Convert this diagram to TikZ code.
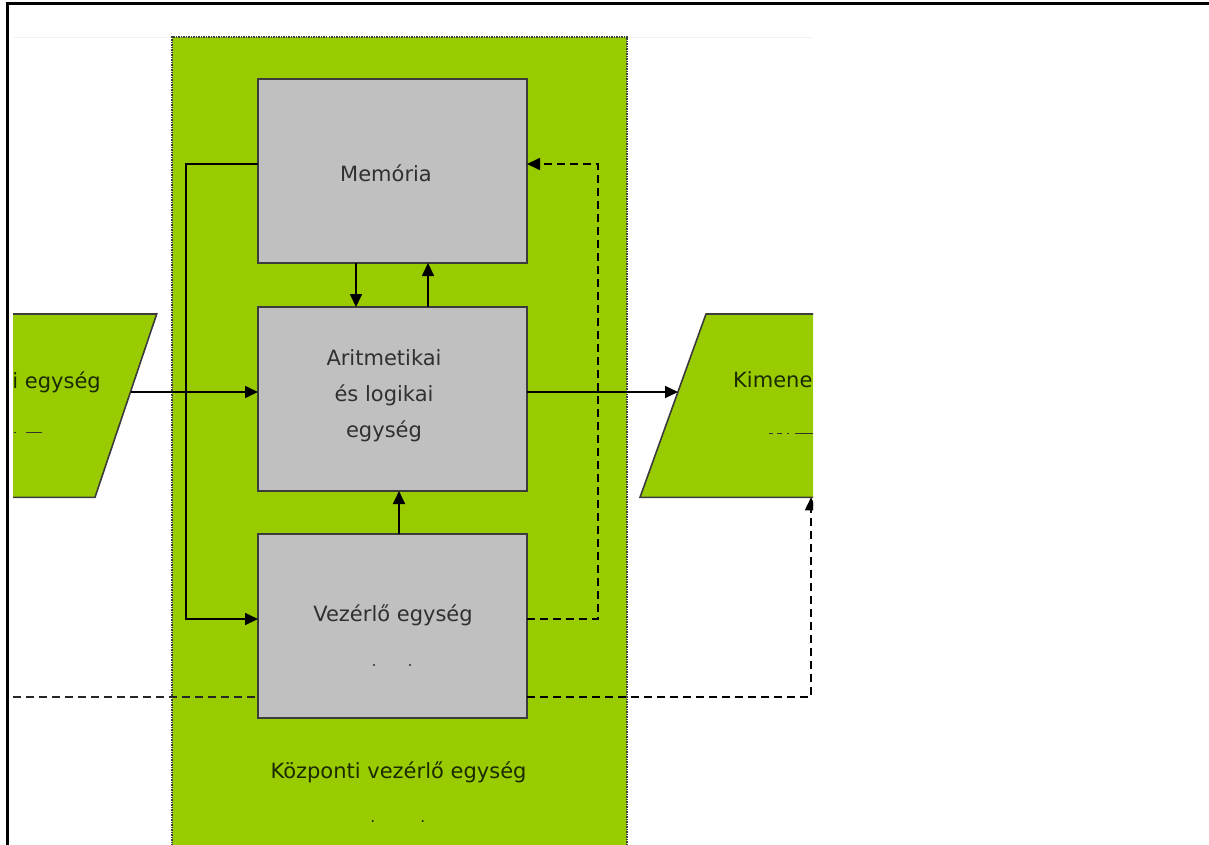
\documentclass[tikz,border=0pt]{standalone}
\usepackage{fontspec}
\setmainfont{DejaVu Sans}
\usetikzlibrary{arrows.meta}

\definecolor{cpugreen}{RGB}{153,204,0}
\definecolor{boxgray}{RGB}{192,192,192}
\definecolor{edgegray}{RGB}{60,60,60}
\definecolor{labelgray}{RGB}{48,48,48}
\definecolor{labelolive}{RGB}{28,42,0}
\definecolor{cliprule}{RGB}{242,242,242}

\begin{document}
\begin{tikzpicture}[x=1pt,y=-1pt,
  unitbox/.style={draw=edgegray, line width=2pt, fill=boxgray,
    minimum width=269pt, minimum height=184pt, inner sep=0pt, outer sep=0pt},
  cpuarea/.style={draw=black!75, line width=1.3pt, dash pattern=on 1.5pt off 1pt,
    fill=cpugreen, minimum width=455pt, minimum height=863pt, inner sep=0pt, outer sep=0pt},
  iobox/.style={draw=edgegray, line width=1.6pt, fill=cpugreen},
  lbl/.style={font=\fontsize{21}{36}\selectfont, text=labelgray, align=center, inner sep=0pt},
  lblgreen/.style={lbl, text=labelolive},
  conn/.style={draw=black, line width=1.7pt, -{Triangle[length=13pt,width=12pt]}},
  dconn/.style={conn, dash pattern=on 8pt off 5pt},
  dlink/.style={draw=black!85, line width=1.7pt, dash pattern=on 8pt off 5pt},
  speck/.style={draw=black!80, line width=1pt}
]
\useasboundingbox (0,0) rectangle (1209,845);

% outer frame (open to the right and bottom)
\draw[line width=2.6pt] (7.5,845) -- (7.5,3.5) -- (1209,3.5);

\begin{scope}
  \clip (13,37) rectangle (813,845);
  \draw[cliprule, line width=1pt] (13,37.5) -- (813,37.5);

  % central processing unit area
  \node[cpuarea] (cpu) at (399.5,468.5) {};

  % input and output devices
  \path[iobox] (-120,314) -- (156.7,314) -- (95,497.3) -- (-181.7,497.3) -- cycle;
  \path[iobox] (706,314) -- (980,314) -- (914,497.3) -- (640,497.3) -- cycle;
  \coordinate (inR) at (130.5,392);
  \coordinate (outL) at (678,392);
  \coordinate (outB) at (811,497.3);
  \node[lblgreen, anchor=base east] (intext) at (101,388) {i egység};
  \node[lblgreen, anchor=base west] (outtext) at (733,387) {Kimene};
  \draw[speck] (14,432) -- (16,432) (26,432) -- (42,432);
  \draw[speck] (769,433) -- (773,433) (777,433) -- (782,433) (787,433) -- (789,433) (795,433) -- (813,433);

  % units
  \node[unitbox] (mem) at (392.5,171) {};
  \node[unitbox] (alu) at (392.5,399) {};
  \node[unitbox] (ctl) at (392.5,626) {};

  \node[lbl, anchor=base] (memtext) at (386,182) {Memória};
  \node[lbl] (alutext) at (384,396) {Aritmetikai\\és logikai\\egység};
  \node[lbl, anchor=base] (ctltext) at (393,621.5) {Vezérlő egység};
  \node[lblgreen, anchor=base] (cputext) at (398.5,778) {Központi vezérlő egység};
  \fill[labelgray] (374,665) circle (1.1pt) (410,665) circle (1.1pt);
  \fill[labelolive] (372.7,821) circle (1.1pt) (422.7,821) circle (1.1pt);

  % routing levels
  \coordinate (railL) at (186,0);
  \coordinate (railR) at (598,0);
  \coordinate (xMA) at (356,0);
  \coordinate (xAM) at (428,0);
  \coordinate (xCA) at (399,0);
  \coordinate (yA) at (0,164);
  \coordinate (yB) at (0,619);
  \coordinate (yC) at (0,697);
  \coordinate (leftEnd) at (13,697);

  % data paths
  \draw[conn] (mem.west |- yA) -| (railL |- yB) -- (ctl.west |- yB);
  \draw[conn] (mem.south -| xMA) -- (alu.north -| xMA);
  \draw[conn] (alu.north -| xAM) -- (mem.south -| xAM);
  \draw[conn] (ctl.north -| xCA) -- (alu.south -| xCA);
  \draw[conn] (inR) -- (alu.west |- inR);
  \draw[conn] (alu.east |- outL) -- (outL);

  % control signals
  \draw[dconn] (ctl.east |- yB) -| (railR |- yA) -- (mem.east |- yA);
  \draw[dlink] (leftEnd) -- (ctl.west |- yC);
  \draw[dconn] (ctl.east |- yC) -| (outB);
\end{scope}
\end{tikzpicture}
\end{document}
